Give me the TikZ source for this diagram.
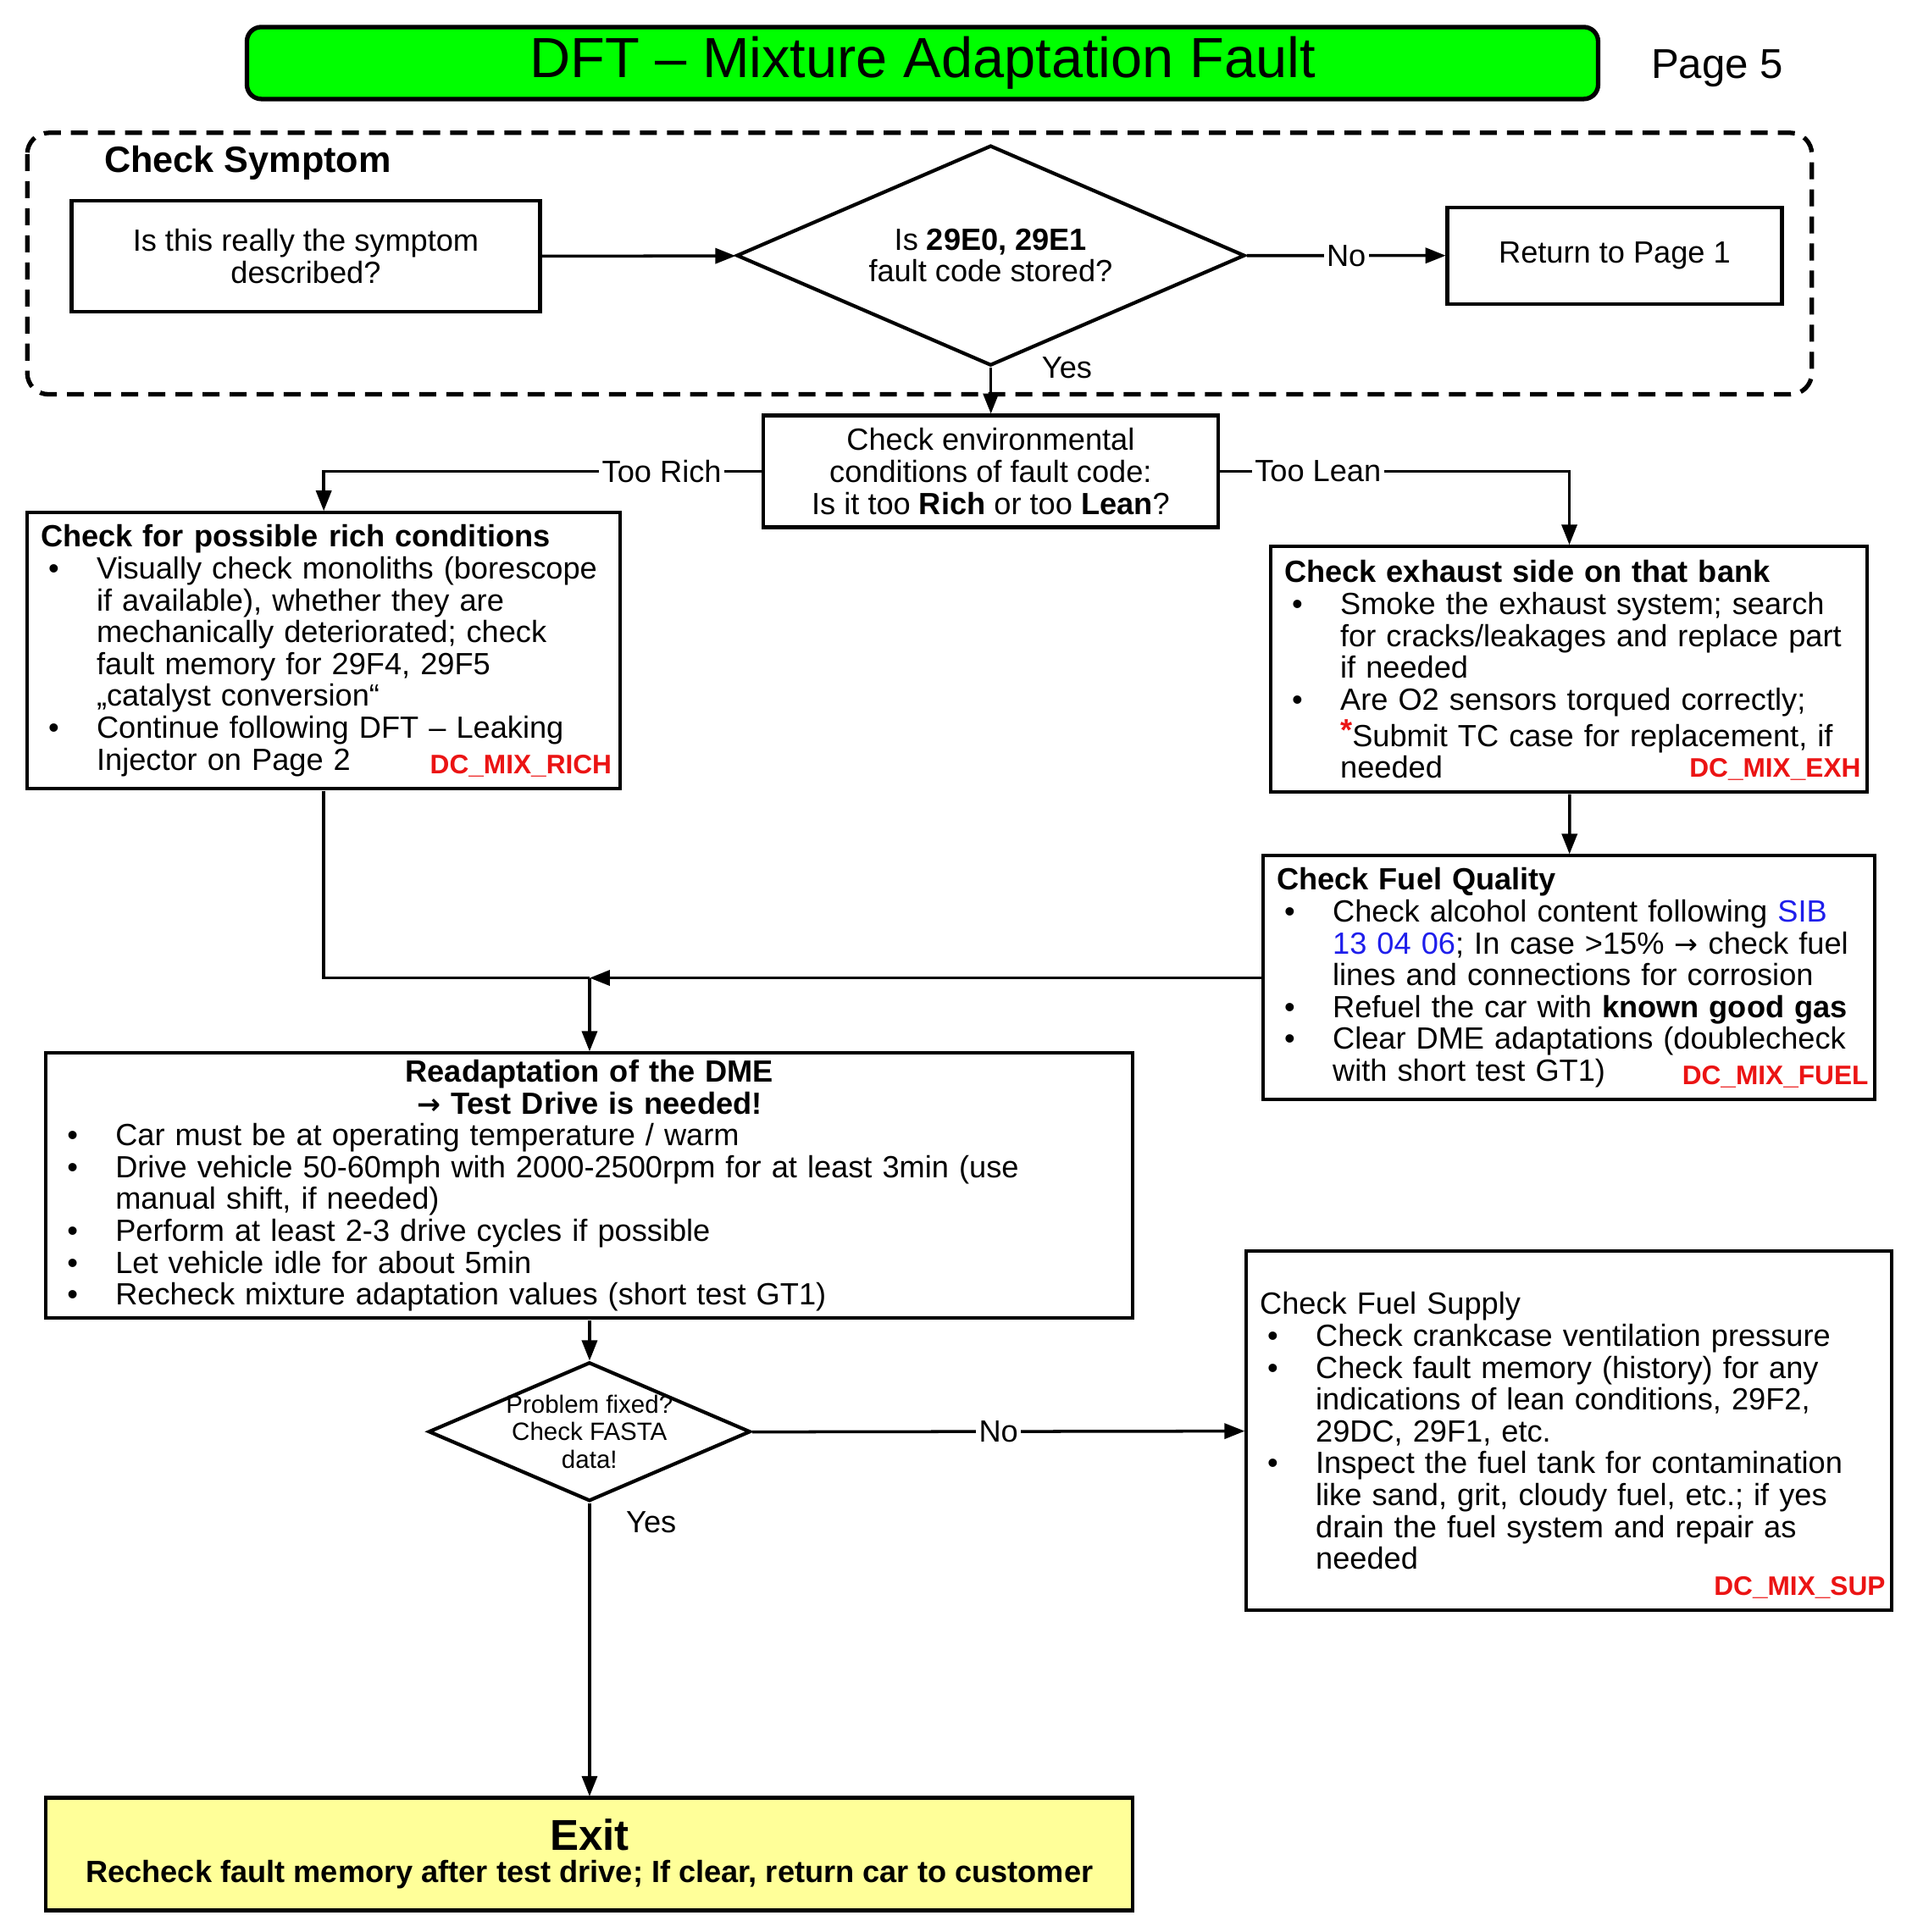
\documentclass[tikz,border=0pt]{standalone}
\usepackage{fontspec}
\setmainfont{Liberation Sans}
\newfontfamily\symfont{DejaVu Sans}
\usepackage{tikz}
\usetikzlibrary{shapes.geometric, arrows.meta}
\usepackage{xcolor}
\definecolor{titlegreen}{RGB}{0,255,0}
\definecolor{exityellow}{RGB}{255,255,153}
\definecolor{linkblue}{RGB}{30,30,235}
\definecolor{codered}{RGB}{235,20,20}
\tikzstyle{box}=[rectangle, draw=black, line width=1.2pt, inner xsep=0.16cm, inner ysep=0.08cm, font=\fontsize{10.3}{10.7}\selectfont]
\tikzstyle{listbox}=[box, align=left]
\tikzstyle{decision}=[diamond, draw=black, line width=1.2pt, inner sep=0pt, shape aspect=2.3, align=center, font=\fontsize{10.3}{10.7}\selectfont]
\tikzstyle{edge}=[draw, line width=1pt, -{Triangle[length=2.4mm, width=1.8mm]}]
\tikzstyle{line}=[draw, line width=1pt]
\tikzstyle{lbl}=[fill=white, inner sep=1pt, font=\fontsize{10.3}{10.7}\selectfont]
\tikzstyle{code}=[text=codered, inner sep=1pt, anchor=south east, font=\bfseries\fontsize{9}{10}\selectfont]
\newcommand{\itm}{\par\noindent\hangindent=6.6mm\hangafter=1\makebox[6.6mm][l]{\hspace{0.9mm}\textbullet}}
\newcommand{\rarr}{{\symfont\fontsize{9.5}{10}\selectfont →}}

\begin{document}
\begin{tikzpicture}[scale=1.0055]
				\useasboundingbox (0, 0) rectangle (22.446, -22.685);

				% header
				\node[box, fill=titlegreen, rounded corners=0.17cm, line width=1.5pt, minimum width=15.95cm, minimum height=0.85cm, font=\fontsize{19}{22}\selectfont] (t_1) at (10.83, -0.74) {DFT -- Mixture Adaptation Fault};
				\node[font=\fontsize{14}{16}\selectfont] (t_2) at (20.16, -0.80) {Page 5};

				% check symptom frame
				\draw[line width=1.5pt, dash pattern=on 5.7pt off 3.4pt, rounded corners=0.25cm] (0.32, -1.56) rectangle (21.27, -4.63);
				\node[anchor=west, font=\bfseries\fontsize{12.3}{14}\selectfont] (t_3) at (1.10, -1.91) {Check Symptom};

				\node[box, minimum width=5.53cm, minimum height=1.31cm, align=center] (b_1) at (3.59, -3.01) {Is this really the symptom\\described?};
				\node[decision, minimum width=6.0cm, minimum height=2.6cm] (d_1) at (11.63, -3.00) {Is \textbf{29E0, 29E1}\\fault code stored?};
				\node[box, minimum width=3.95cm, minimum height=1.14cm] (b_2) at (18.955, -3.00) {Return to Page 1};

				\draw[edge] (b_1) -- (d_1);
				\draw[edge] (d_1) -- node[lbl, pos=0.5] {No} (b_2);

				% environmental conditions
				\node[box, minimum width=5.37cm, minimum height=1.32cm, align=center] (b_3) at (11.63, -5.535) {Check environmental\\conditions of fault code:\\Is it too \textbf{Rich} or too \textbf{Lean}?};
				\draw[edge] (d_1.south) -- node[lbl, at start, anchor=west, xshift=0.55cm, fill=none] {Yes} (b_3.north);

				\node[listbox, minimum width=7.0cm, text width=6.68cm, minimum height=3.26cm] (b_4) at (3.80, -7.64) {\textbf{Check for possible rich conditions}
					\itm Visually check monoliths (borescope\newline if available), whether they are\newline mechanically deteriorated; check\newline fault memory for 29F4, 29F5\newline „catalyst conversion“
					\itm Continue following DFT -- Leaking\newline Injector on Page 2\par};
				\node[code] (c_1) at ([xshift=-0.08cm, yshift=0.12cm]b_4.south east) {DC\_MIX\_RICH};

				\node[listbox, minimum width=7.04cm, text width=6.72cm, minimum height=2.90cm] (b_5) at (18.42, -7.86) {\textbf{Check exhaust side on that bank}
					\itm Smoke the exhaust system; search\newline for cracks/leakages and replace part\newline if needed
					\itm Are O2 sensors torqued correctly;\newline \raisebox{0.35ex}{\color{codered}\bfseries *}Submit TC case for replacement, if\newline needed\par};
				\node[code] (c_2) at ([xshift=-0.06cm, yshift=0.12cm]b_5.south east) {DC\_MIX\_EXH};

				\draw[edge] (b_3.west) -| node[lbl, pos=0.114] {Too Rich} (b_4.north);
				\draw[edge] (b_3.east) -| node[lbl, pos=0.14] {Too Lean} (b_5.north);

				\node[listbox, minimum width=7.22cm, text width=6.90cm, minimum height=2.88cm] (b_6) at (18.42, -11.48) {\textbf{Check Fuel Quality}
					\itm Check alcohol content following {\color{linkblue}SIB\newline 13 04 06}; In case >15\% \rarr{} check fuel\newline lines and connections for corrosion
					\itm Refuel the car with \textbf{known good gas}
					\itm Clear DME adaptations (doublecheck\newline with short test GT1)\par};
				\node[code] (c_3) at ([xshift=-0.06cm, yshift=0.12cm]b_6.south east) {DC\_MIX\_FUEL};

				\draw[edge] (b_5) -- (b_6);

				% readaptation
				\coordinate (m_1) at (6.92, -11.48);
				\node[listbox, minimum width=12.83cm, text width=12.51cm, minimum height=3.06cm] (b_7) at (6.92, -13.92) {{\centering\textbf{Readaptation of the DME}\\\textbf{\rarr{} Test Drive is needed!}\par}
					\itm Car must be at operating temperature / warm
					\itm Drive vehicle 50-60mph with 2000-2500rpm for at least 3min (use\newline manual shift, if needed)
					\itm Perform at least 2-3 drive cycles if possible
					\itm Let vehicle idle for about 5min
					\itm Recheck mixture adaptation values (short test GT1)\par};

				\draw[line] (b_4.south) |- (m_1);
				\draw[edge] (b_6.west) -- (m_1);
				\draw[edge] (m_1) -- (b_7.north);

				% problem fixed?
				\node[decision, inner sep=-0.16cm, minimum width=3.80cm, minimum height=1.64cm, font=\fontsize{8.4}{9.3}\selectfont] (d_2) at (6.92, -16.81) {Problem fixed?\\Check FASTA\\data!};
				\draw[edge] (b_7.south) -- (d_2.north);

				\node[listbox, minimum width=7.62cm, text width=7.30cm, minimum height=4.24cm] (b_8) at (18.42, -16.80) {Check Fuel Supply
					\itm Check crankcase ventilation pressure
					\itm Check fault memory (history) for any\newline indications of lean conditions, 29F2,\newline 29DC, 29F1, etc.
					\itm Inspect the fuel tank for contamination\newline like sand, grit, cloudy fuel, etc.; if yes\newline drain the fuel system and repair as\newline needed\par\vspace{5.5pt}};
				\node[code] (c_4) at ([xshift=-0.06cm, yshift=0.12cm]b_8.south east) {DC\_MIX\_SUP};

				\draw[edge] (d_2.east) -- node[lbl, pos=0.5] {No} (b_8.west);

				% exit
				\node[box, fill=exityellow, minimum width=12.83cm, minimum height=1.33cm, align=center] (b_9) at (6.92, -21.77) {{\bfseries\fontsize{14.5}{17}\selectfont Exit}\\\textbf{Recheck fault memory after test drive; If clear, return car to customer}};
				\draw[edge] (d_2.south) -- node[lbl, at start, anchor=west, xshift=0.38cm, yshift=-0.22cm, fill=none] {Yes} (b_9.north);
\end{tikzpicture}
\end{document}
